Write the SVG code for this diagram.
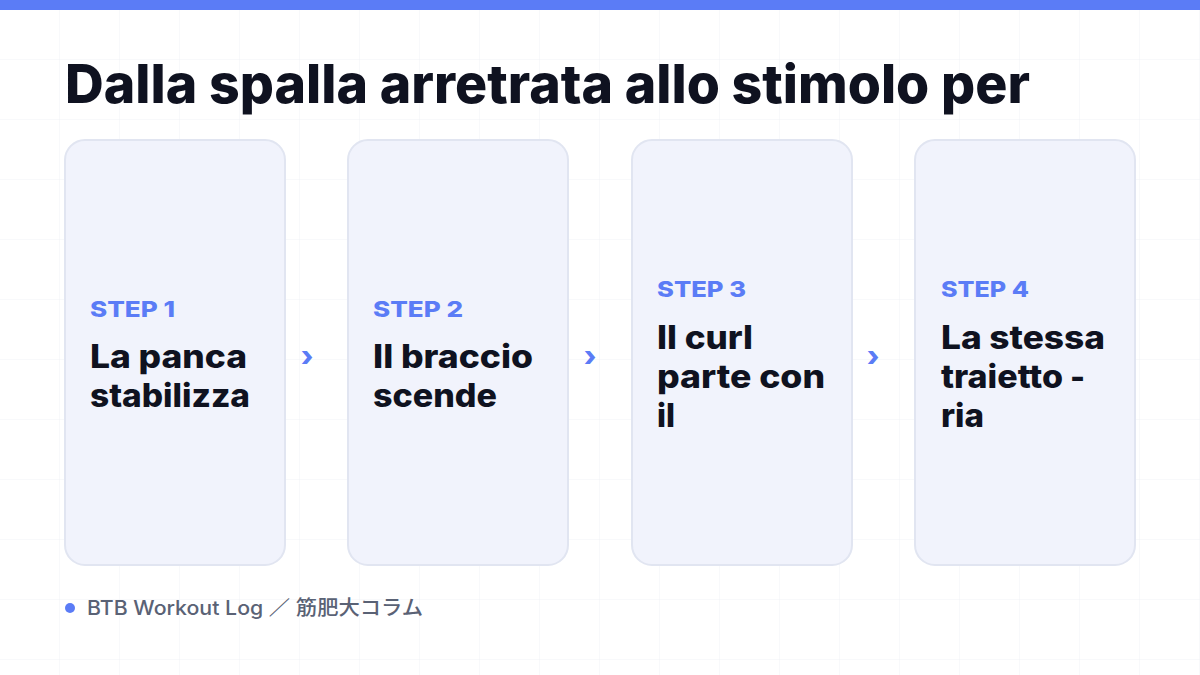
<svg xmlns="http://www.w3.org/2000/svg" width="1200" height="675" viewBox="0 0 1200 675">
<defs>
<pattern id="grid" width="60" height="60" patternUnits="userSpaceOnUse">
<path d="M60 0V60M0 60H60" fill="none" stroke="#f1f2f6" stroke-width="1"/>
</pattern>
</defs>
<style>
.card{fill:#f1f3fc;stroke:#e1e5f1;stroke-width:2}
.step{font-family:Inter,"Noto Sans",sans-serif;font-weight:800;font-size:22px;fill:#5b7cf6}
.body{font-family:Inter,"Noto Sans",sans-serif;font-weight:800;font-size:32px;fill:#0f1220}
.arrow{font-family:Inter,"Noto Sans",sans-serif;font-weight:800;font-size:28px;fill:#5b7cf6}
.title{font-family:Inter,"Noto Sans",sans-serif;font-weight:800;font-size:54px;fill:#0f1220}
.foot{font-family:Inter,"Noto Sans CJK JP",sans-serif;font-weight:500;font-size:20px;fill:#5a6275}
</style>
<rect width="1200" height="675" fill="#ffffff"/>
<rect width="1200" height="675" fill="url(#grid)"/>
<rect width="1200" height="10" fill="#5b7cf6"/>
<text class="title" x="65" y="103" textLength="965" lengthAdjust="spacingAndGlyphs">Dalla spalla arretrata allo stimolo per</text>
<g id="node1">
<rect class="card" x="65" y="140" width="220" height="425" rx="20"/>
<text class="step" x="90" y="317" textLength="85" lengthAdjust="spacingAndGlyphs">STEP 1</text>
<text class="body" x="90" y="368" textLength="157" lengthAdjust="spacingAndGlyphs">La panca</text>
<text class="body" x="90" y="407" textLength="160" lengthAdjust="spacingAndGlyphs">stabilizza</text>
</g>
<g id="node2">
<rect class="card" x="348" y="140" width="220" height="425" rx="20"/>
<text class="step" x="373" y="317" textLength="90" lengthAdjust="spacingAndGlyphs">STEP 2</text>
<text class="body" x="373" y="368" textLength="160" lengthAdjust="spacingAndGlyphs">Il braccio</text>
<text class="body" x="373" y="407" textLength="124" lengthAdjust="spacingAndGlyphs">scende</text>
</g>
<g id="node3">
<rect class="card" x="632" y="140" width="220" height="425" rx="20"/>
<text class="step" x="657" y="297" textLength="89" lengthAdjust="spacingAndGlyphs">STEP 3</text>
<text class="body" x="657" y="349" textLength="96" lengthAdjust="spacingAndGlyphs">Il curl</text>
<text class="body" x="657" y="388" textLength="168" lengthAdjust="spacingAndGlyphs">parte con</text>
<text class="body" x="657" y="427" textLength="18" lengthAdjust="spacingAndGlyphs">il</text>
</g>
<g id="node4">
<rect class="card" x="915" y="140" width="220" height="425" rx="20"/>
<text class="step" x="941" y="297" textLength="88" lengthAdjust="spacingAndGlyphs">STEP 4</text>
<text class="body" x="941" y="349" textLength="164" lengthAdjust="spacingAndGlyphs">La stessa</text>
<text class="body" y="388"><tspan x="941" textLength="122" lengthAdjust="spacingAndGlyphs">traietto</tspan><tspan x="1070">-</tspan></text>
<text class="body" x="941" y="427" textLength="43" lengthAdjust="spacingAndGlyphs">ria</text>
</g>
<g id="connectors">
<text class="arrow" x="307" y="366" text-anchor="middle">›</text>
<text class="arrow" x="590" y="366" text-anchor="middle">›</text>
<text class="arrow" x="873" y="366" text-anchor="middle">›</text>
</g>
<g id="footer">
<circle cx="70" cy="608" r="5" fill="#5b7cf6"/>
<text class="foot" x="87" y="615" textLength="336" lengthAdjust="spacingAndGlyphs">BTB Workout Log ／ 筋肥大コラム</text>
</g>
</svg>
